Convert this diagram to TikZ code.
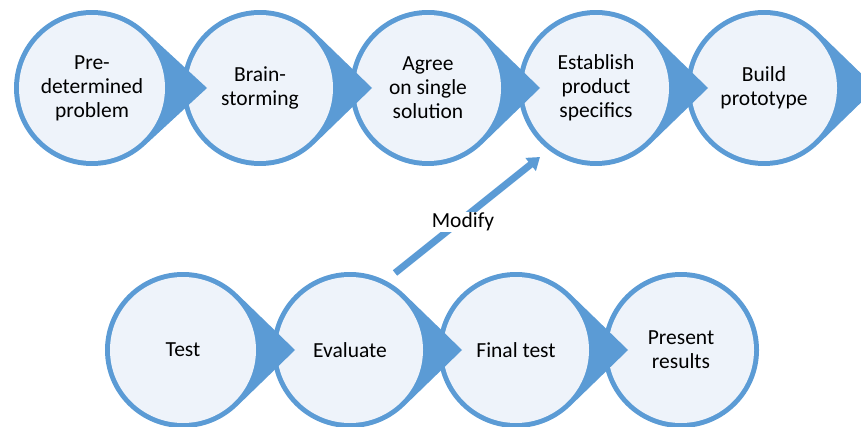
\documentclass[tikz,border=0pt]{standalone}
\usepackage{fontspec}
\setmainfont{Carlito}
\usepackage{tikz}
\usetikzlibrary{arrows.meta}
\tikzset{>=latex}
\definecolor{ringblue}{HTML}{5B9BD5}
\definecolor{paleblue}{HTML}{EEF3FA}
\tikzset{
    steplabel/.style={align=center, inner sep=0pt, font=\fontsize{21.5}{24}\selectfont},
}

\begin{document}
\begin{tikzpicture}[x=1pt, y=1pt]
    \useasboundingbox (0, 0) rectangle (861, 426);
    \clip (0, 0) rectangle (861, 426);
    % circles go right to left, so every tip lies over the next circle
    \foreach \cx/\cy/\tip/\nm/\txt in {
        764/338/112/build/{Build\\prototype},
        596/338/112/establish/{Establish\\product\\specifics},
        428/338/112/agree/{Agree\\on single\\solution},
        260/338/112/brain/{Brain-\\storming},
        92/338/115/predet/{Pre-\\determined\\problem},
        681/76/78/present/{Present\\results},
        516/76/112/final/{Final test},
        350/76/112/evaluate/{Evaluate},
        183/76/112/test/{Test}}{
        \pgfmathsetmacro\ang{acos(78/\tip)}
        \fill[ringblue](\cx, \cy) ++(\ang:78) arc[start angle=\ang, end angle=360-\ang, radius=78] -- (\cx+\tip, \cy) -- cycle;
        \fill[paleblue](\cx, \cy) circle[radius=73];
        \node[steplabel] (\nm) at (\cx, \cy) {\txt};
    }
    \coordinate (modtail) at (395, 153);
    \coordinate (modhead) at (540, 269);
    \draw[ringblue, line width=7pt, -{Triangle[width=16pt, length=12pt]}](modtail)--(modhead);
    \node[fill=white, inner sep=1pt, font=\fontsize{21.5}{24}\selectfont] (modify) at (463, 204) {Modify};
\end{tikzpicture}
\end{document}
